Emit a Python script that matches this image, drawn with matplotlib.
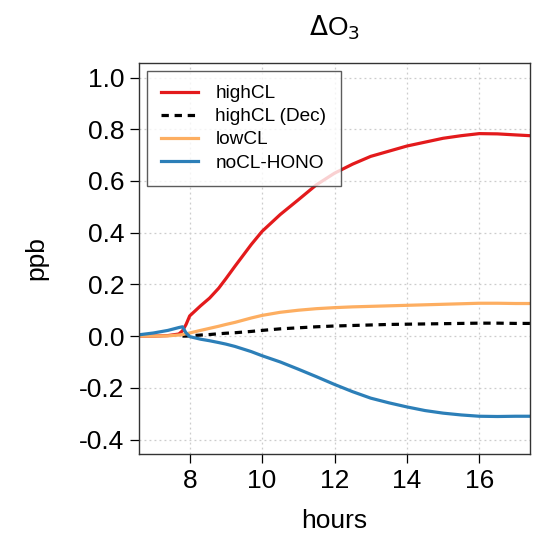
import numpy as np
import matplotlib.pyplot as plt

plt.rcParams['font.family'] = ['Liberation Sans', 'DejaVu Sans']

# time axis (hours) shared by all runs
hours = [6.6, 7.0, 7.4, 7.7, 7.8, 7.9, 8.0, 8.3, 8.55, 8.8, 9.0, 9.25, 9.7, 10.0, 10.5,
         11.0, 11.5, 12.0, 12.5, 13.0, 13.5, 14.0, 14.5, 15.0, 15.5, 16.0, 16.5, 17.0, 17.4]

highCL = [0, 0, 0.002, 0.008, 0.02, 0.045, 0.078, 0.117, 0.147, 0.185, 0.222, 0.27,
          0.354, 0.405, 0.47, 0.527, 0.585, 0.63, 0.665, 0.695, 0.715, 0.735, 0.75,
          0.765, 0.775, 0.783, 0.782, 0.778, 0.775]
highCL_dec = [np.nan, np.nan, np.nan, np.nan, 0, 0, 0.001, 0.004, 0.006, 0.009, 0.011,
              0.013, 0.018, 0.022, 0.028, 0.032, 0.036, 0.039, 0.041, 0.043, 0.045,
              0.046, 0.047, 0.048, 0.049, 0.05, 0.05, 0.049, 0.049]
lowCL = [0, 0, 0.001, 0.004, 0.006, 0.009, 0.012, 0.022, 0.03, 0.038, 0.045, 0.053,
         0.07, 0.08, 0.092, 0.1, 0.106, 0.11, 0.113, 0.115, 0.117, 0.119, 0.121,
         0.123, 0.125, 0.127, 0.127, 0.126, 0.126]
noCL_HONO = [0.005, 0.012, 0.022, 0.033, 0.036, 0.012, -0.002, -0.012, -0.018, -0.025,
             -0.031, -0.04, -0.06, -0.076, -0.10, -0.128, -0.157, -0.187, -0.215,
             -0.24, -0.258, -0.274, -0.288, -0.298, -0.305, -0.31, -0.311, -0.31, -0.31]

fig = plt.figure(figsize=(5.33, 5.35), dpi=100)
ax = fig.add_axes([0.2608, 0.1514, 0.7336, 0.7308])

lw = 2.3
ax.plot(hours, highCL, color='#e31a1c', lw=lw, label='highCL')
ax.plot(hours, highCL_dec, color='black', lw=lw, dashes=(2.3, 1.8), label='highCL (Dec)')
ax.plot(hours, lowCL, color='#fdae61', lw=lw, label='lowCL')
ax.plot(hours, noCL_HONO, color='#2c7fb8', lw=lw, label='noCL-HONO')

ax.set_xlim(6.6, 17.4)
ax.set_ylim(-0.456, 1.056)
ax.set_xticks([8, 10, 12, 14, 16])
ax.set_yticks([-0.4, -0.2, 0.0, 0.2, 0.4, 0.6, 0.8, 1.0])
ax.set_yticklabels(['-0.4', '-0.2', '0.0', '0.2', '0.4', '0.6', '0.8', '1.0'])
ax.grid(True, color='#cccccc', linestyle=(0, (1.5, 2.5)), linewidth=0.9)
ax.set_axisbelow(True)

ax.tick_params(axis='both', direction='out', length=6.5, width=0.9,
               labelsize=19, pad=4)
for sp in ax.spines.values():
    sp.set_color('#333333')
    sp.set_linewidth(1.0)

ax.set_xlabel('hours', fontsize=19, labelpad=12)
ax.set_ylabel('ppb', fontsize=19, labelpad=22)
ax.set_title(r'$\Delta$O$_3$', fontsize=19, pad=20)

leg = ax.legend(loc='upper left', bbox_to_anchor=(0.02, 0.98), fontsize=13.7,
                frameon=True, fancybox=False, edgecolor='#333333',
                handlelength=1.95, handletextpad=0.9, labelspacing=0.3,
                borderpad=0.75, borderaxespad=0)
leg.get_frame().set_linewidth(1.0)

fig.savefig('out.png', dpi=100)
